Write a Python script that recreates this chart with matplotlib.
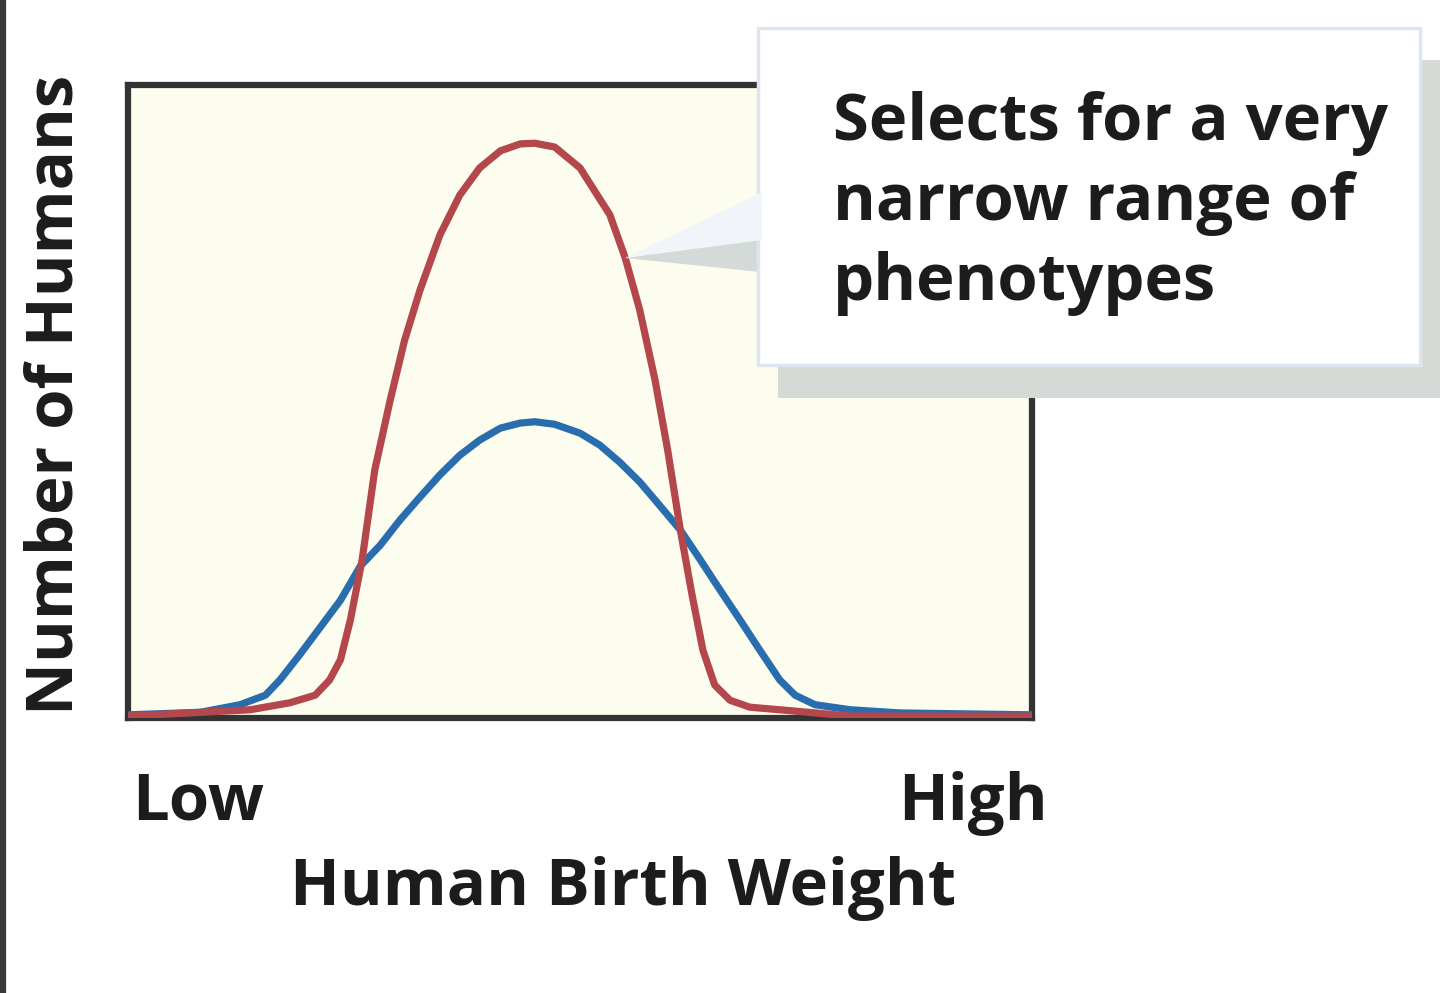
import matplotlib
matplotlib.use("Agg")
import matplotlib.pyplot as plt
from matplotlib.patches import Rectangle, Polygon
from matplotlib.lines import Line2D

# birth weight (arbitrary units, low -> high) and number of humans (arbitrary units)
blue_x = [0, 8.0, 12.4, 15.2, 16.8, 19.0, 21.2, 23.5, 25.7, 27.9, 30.1, 32.3, 34.5, 36.7,
          38.9, 41.2, 43.4, 45.0, 47.2, 50.0, 52.2, 54.4, 56.6, 58.8, 61.1, 63.3, 65.5,
          67.7, 69.9, 72.1, 73.8, 76.0, 79.9, 85.4, 100]
blue_y = [0.5, 0.9, 2.1, 3.6, 6.0, 10.0, 14.2, 18.6, 24.0, 27.3, 31.3, 34.9, 38.4, 41.5,
          43.9, 45.8, 46.6, 46.8, 46.4, 45.0, 43.1, 40.4, 37.3, 33.6, 29.7, 25.0, 20.2,
          15.5, 10.7, 6.0, 3.6, 2.1, 1.3, 0.8, 0.5]

red_x = [0, 13.5, 17.9, 20.7, 22.3, 23.5, 24.6, 25.9, 27.3, 29.0, 30.6, 32.3, 34.5, 36.7,
         38.9, 41.2, 43.4, 45.0, 47.2, 50.0, 53.3, 55.0, 56.6, 58.3, 59.7, 61.1, 62.4,
         63.6, 64.9, 66.6, 68.8, 72.1, 79.9, 100]
red_y = [0.3, 1.3, 2.4, 3.6, 6.0, 9.2, 15.5, 25.0, 39.2, 50.2, 59.7, 67.6, 76.3, 82.6,
         86.9, 89.6, 90.7, 90.8, 90.2, 86.9, 79.5, 72.7, 64.5, 53.4, 42.3, 29.7, 19.4,
         10.7, 5.2, 2.8, 1.7, 1.3, 0.3, 0.3]

x_labels = ["Low", "High"]
callout_lines = ["Selects for a very", "narrow range of", "phenotypes"]

plt.rcParams['font.family'] = ['Open Sans', 'DejaVu Sans']

W, H = 1440, 993
fig = plt.figure(figsize=(W / 100, H / 100), dpi=100)
fig.patch.set_facecolor("white")

ax = fig.add_axes([128 / W, 1 - 718 / H, 904 / W, 633 / H])
ax.set_facecolor("#fdfdef")
ax.plot(blue_x, blue_y, color="#2a6dae", lw=5.2, solid_capstyle="round", solid_joinstyle="round", zorder=3)
ax.plot(red_x, red_y, color="#b3474b", lw=5.2, solid_capstyle="round", solid_joinstyle="round", zorder=4)
ax.set_xlim(0, 100)
ax.set_ylim(0, 100)
ax.set_xticks([])
ax.set_yticks([])
for s in ax.spines.values():
    s.set_linewidth(4.5)
    s.set_color("#333333")

bold = dict(fontweight="bold", color="#1c1c1c", fontsize=47)
fig.text(132 / W, 1 - 820 / H, x_labels[0], ha="left", va="baseline", **bold)
fig.text(1048 / W, 1 - 820 / H, x_labels[1], ha="right", va="baseline", **bold)
fig.text(623 / W, 1 - 905 / H, "Human Birth Weight", ha="center", va="baseline", **bold)
fig.text(56 / W, 1 - 395 / H, "Number of Humans", ha="center", va="center",
         rotation=90, **bold)

# left page border
fig.add_artist(Line2D([3 / W, 3 / W], [0, 1], color="#3a3a3a", lw=4.5, transform=fig.transFigure))

# callout box with shadow and pointer
def fx(px):
    return px / W

def fy(py):
    return 1 - py / H

tf = fig.transFigure
fig.add_artist(Rectangle((fx(778), fy(398)), fx(662), fy(60) - fy(398), facecolor="#d5dad6",
                         edgecolor="none", transform=tf, zorder=5))
fig.add_artist(Polygon([(fx(625), fy(258)), (fx(760), fy(238)), (fx(760), fy(272))],
                       closed=True, facecolor="#d4dad8", edgecolor="none", transform=tf, zorder=5))
fig.add_artist(Rectangle((fx(758), fy(365)), fx(662), fy(28) - fy(365), facecolor="white",
                         edgecolor="#dde6ee", lw=2.5, transform=tf, zorder=6))
fig.add_artist(Polygon([(fx(625), fy(258)), (fx(762), fy(192)), (fx(762), fy(240))],
                       closed=True, facecolor="#f1f5f9", edgecolor="none", transform=tf, zorder=7))

for i, line in enumerate(callout_lines):
    fig.text(833 / W, 1 - (140 + 80 * i) / H, line, ha="left", va="baseline", zorder=8, **bold)

fig.savefig("out.png", dpi=100)
